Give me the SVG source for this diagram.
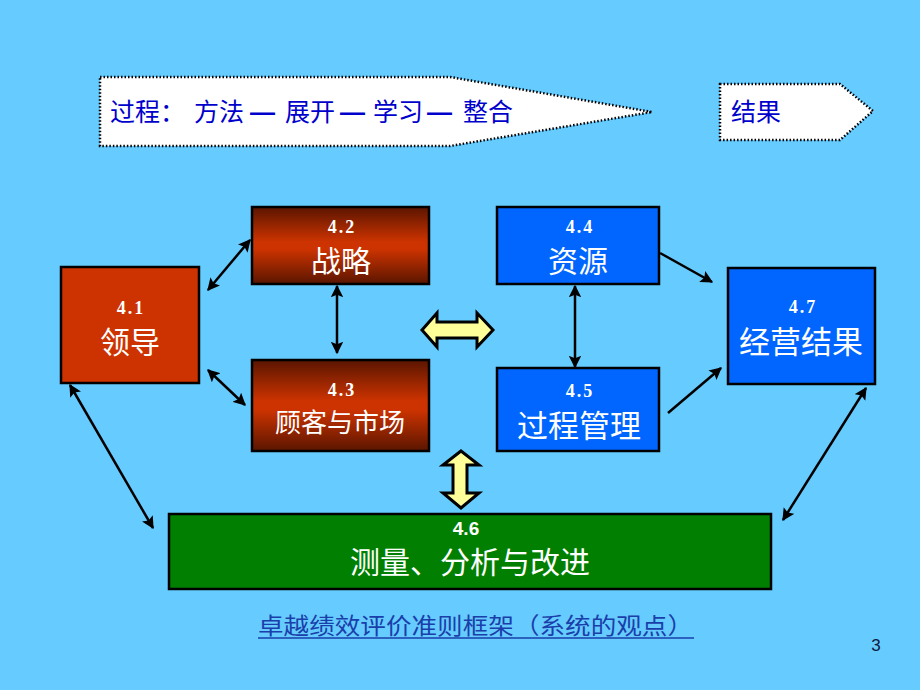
<svg xmlns="http://www.w3.org/2000/svg" width="920" height="690" viewBox="0 0 920 690">
<defs>
<style>
.bg{fill:#66CCFF}
.banner{fill:#FFFFFF;stroke:#000;stroke-width:2.5;stroke-dasharray:1.5 2}
.btxt{font-family:"Noto Sans CJK SC","Liberation Sans",sans-serif;font-size:25px;fill:#0000CC}
.dash{font-family:"Liberation Sans",sans-serif;font-weight:bold}
.box{stroke:#000;stroke-width:2.5}
.num{font-family:"Liberation Serif",serif;font-weight:bold;font-size:18px;letter-spacing:2px;fill:#FFFFFF;text-anchor:middle}
.lbl{font-family:"Noto Sans CJK SC","Liberation Sans",sans-serif;fill:#FFFFFF;text-anchor:middle}
.conn{stroke:#000;stroke-width:2.5;fill:none;marker-start:url(#ah);marker-end:url(#ah)}
.one{stroke:#000;stroke-width:2.5;fill:none;marker-end:url(#ah)}
.yel{fill:#FFFF99;stroke:#000;stroke-width:3;stroke-linejoin:miter}
</style>
<linearGradient id="red" x1="0" y1="0" x2="0" y2="1">
<stop offset="0" stop-color="#5A1500"/>
<stop offset="0.45" stop-color="#CC3300"/>
<stop offset="0.55" stop-color="#CC3300"/>
<stop offset="1" stop-color="#5A1500"/>
</linearGradient>
<marker id="ah" viewBox="0 0 10 10" refX="9" refY="5" markerWidth="5" markerHeight="5" orient="auto-start-reverse" markerUnits="strokeWidth">
<path d="M0,0 L10,5 L0,10 L2,5 Z" fill="#000"/>
</marker>
</defs>
<rect class="bg" x="0" y="0" width="920" height="690"/>

<g id="banner-process">
<polygon class="banner" points="100,77 450,77 652,112 450,146 100,146"/>
<text class="btxt" y="121"><tspan x="110">过程：</tspan><tspan x="194">方法</tspan><tspan class="dash" x="250">—</tspan><tspan x="285">展开</tspan><tspan class="dash" x="340">—</tspan><tspan x="373">学习</tspan><tspan class="dash" x="427">—</tspan><tspan x="463">整合</tspan></text>
</g>
<g id="banner-result">
<polygon class="banner" points="720,84 840,84 873,111 840,140 720,140"/>
<text class="btxt" x="731" y="121">结果</text>
</g>

<g id="connectors">
<line class="conn" x1="208" y1="290" x2="250" y2="240"/>
<line class="conn" x1="337" y1="286" x2="337" y2="353"/>
<line class="conn" x1="208" y1="370" x2="245" y2="405"/>
<line class="conn" x1="575" y1="286" x2="575" y2="367"/>
<line class="one" x1="660" y1="253" x2="712" y2="282"/>
<line class="one" x1="668" y1="413" x2="721" y2="368"/>
<line class="conn" x1="70" y1="385" x2="153" y2="528"/>
<line class="conn" x1="783" y1="520" x2="866" y2="388"/>
<polygon class="yel" points="422,330 437,313 437,322 477,322 477,313 493,330 477,347 477,338 437,338 437,347"/>
<polygon class="yel" points="461,451 479,465 467,465 467,493 479,493 461,508 443,493 453,493 453,465 443,465"/>
</g>

<g id="n41">
<rect class="box" x="61" y="267" width="138" height="116" fill="#CC3300"/>
<text class="num" x="131" y="314">4.1</text>
<text class="lbl" x="130" y="353" font-size="30">领导</text>
</g>
<g id="n42">
<rect class="box" x="252" y="207" width="177" height="77" fill="url(#red)"/>
<text class="num" x="342" y="233">4.2</text>
<text class="lbl" x="341" y="272" font-size="30">战略</text>
</g>
<g id="n43">
<rect class="box" x="252" y="360" width="177" height="91" fill="url(#red)"/>
<text class="num" x="342" y="396">4.3</text>
<text class="lbl" x="340" y="432" font-size="26">顾客与市场</text>
</g>
<g id="n44">
<rect class="box" x="497" y="207" width="162" height="77" fill="#0066FF"/>
<text class="num" x="580" y="233">4.4</text>
<text class="lbl" x="578" y="272" font-size="30">资源</text>
</g>
<g id="n45">
<rect class="box" x="497" y="368" width="162" height="83" fill="#0066FF"/>
<text class="num" x="580" y="397">4.5</text>
<text class="lbl" x="579" y="437" font-size="31">过程管理</text>
</g>
<g id="n47">
<rect class="box" x="728" y="268" width="147" height="116" fill="#0066FF"/>
<text class="num" x="803" y="313">4.7</text>
<text class="lbl" x="801" y="353" font-size="31">经营结果</text>
</g>
<g id="n46">
<rect class="box" x="169" y="514" width="602" height="75" fill="#007F00"/>
<text x="466" y="535" font-family="'Liberation Sans',sans-serif" font-weight="bold" font-size="19" fill="#FFFFFF" text-anchor="middle">4.6</text>
<text class="lbl" x="470" y="573" font-size="30">测量、分析与改进</text>
</g>

<g id="caption">
<text x="258" y="634" font-family="'Noto Sans CJK SC','Liberation Sans',sans-serif" font-size="23" fill="#1A3FAA" textLength="435" lengthAdjust="spacingAndGlyphs">卓越绩效评价准则框架（系统的观点）</text>
<line x1="258" y1="638" x2="694" y2="638" stroke="#1A3FAA" stroke-width="1.5"/>
</g>
<text x="876" y="651" font-family="'Liberation Sans',sans-serif" font-size="17" fill="#0A1A40" text-anchor="middle">3</text>
</svg>
